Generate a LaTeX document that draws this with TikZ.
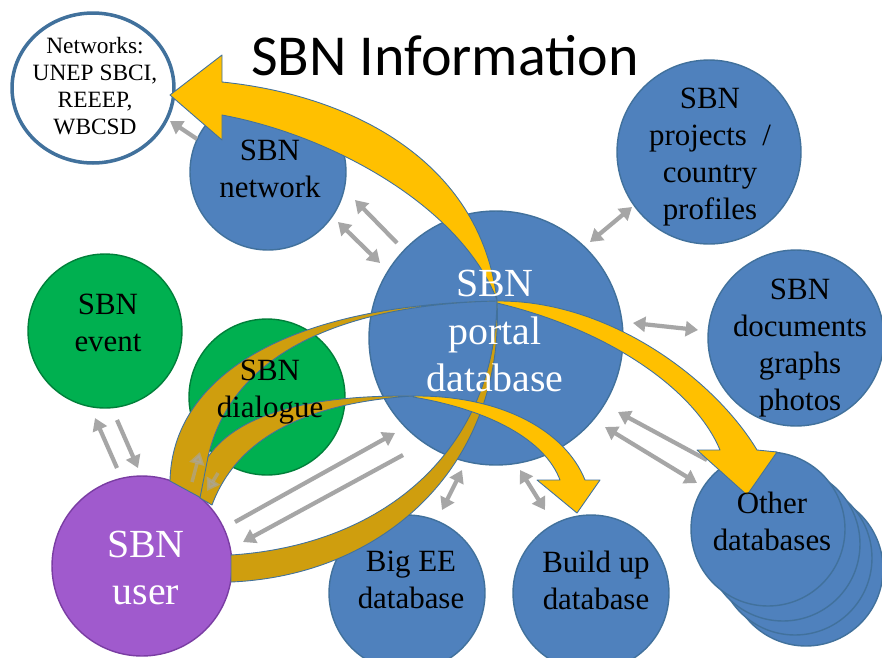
\documentclass[tikz,border=0pt]{standalone}
\usepackage{fontspec}
\setmainfont{Liberation Serif}
\newfontfamily\titlefont{Carlito}
\usetikzlibrary{arrows.meta, shapes.geometric}
\definecolor{sbnblue}{HTML}{4F81BD}
\definecolor{sbnline}{HTML}{41719C}
\definecolor{sbngreen}{HTML}{00B050}
\definecolor{sbngreenline}{HTML}{00803A}
\definecolor{sbnpurple}{HTML}{A05ACD}
\definecolor{sbnpurpleline}{HTML}{7A3DA3}
\definecolor{flowgold}{HTML}{FFC000}
\definecolor{flowdark}{HTML}{CF9E0E}
\definecolor{linkgray}{HTML}{A6A6A6}
\begin{document}
\begin{tikzpicture}[x = 0.02cm, y = -0.02cm,
    db node/.style = {circle, draw = sbnline, line width = 0.8pt, fill = sbnblue, inner sep = 0pt},
    green node/.style = {circle, draw = sbngreenline, line width = 0.8pt, fill = sbngreen, inner sep = 0pt},
    user node/.style = {circle, draw = sbnpurpleline, line width = 0.8pt, fill = sbnpurple, inner sep = 0pt},
    circle text/.style = {align = center, inner sep = 0pt, font = \fontsize{17.6}{21}\selectfont},
    big text/.style = {align = center, inner sep = 0pt, text = white, font = \fontsize{22.7}{27.2}\selectfont},
    link/.style = {draw = linkgray, line width = 2.4pt, -{Triangle[width = 8.5pt, length = 7pt]}},
    twoway/.style = {link, {Triangle[width = 8.5pt, length = 7pt]}-{Triangle[width = 8.5pt, length = 7pt]}},
    flow front/.style = {fill = flowgold, draw = sbnline, line width = 0.5pt, line join = round},
    flow back/.style = {fill = flowdark, draw = sbnline, line width = 0.5pt, line join = round}]
    \fill[white] (0, 0) rectangle (882, 657);
    \useasboundingbox (0, 0) rectangle (882, 657);

    \node at (93, 88) [ellipse, draw = sbnline, line width = 2pt, fill = white, inner sep = 0pt, minimum width = 3.24cm, minimum height = 3cm] (networks) {};
    \node at (268, 172) [db node, minimum size = 3.12cm] (network) {};
    \node at (709, 152) [db node, minimum size = 3.68cm] (projects) {};
    \node at (796, 338) [db node, minimum size = 3.52cm] (documents) {};
    \node at (806, 569) [db node, minimum size = 3.08cm] (other3) {};
    \node at (795, 558) [db node, minimum size = 3.08cm] (other2) {};
    \node at (783, 544) [db node, minimum size = 3.08cm] (other1) {};
    \node at (768, 529) [db node, minimum size = 3.08cm] (other) {};
    \node at (407, 593) [db node, minimum size = 3.12cm] (bigee) {};
    \node at (591, 593) [db node, minimum size = 3.12cm] (buildup) {};
    \node at (496, 338) [db node, minimum size = 5.08cm] (portal) {};
    \node at (105, 331) [green node, minimum size = 3.08cm] (event) {};
    \node at (267, 397) [green node, minimum size = 3.12cm] (dialogue) {};
    \node at (142, 566) [user node, minimum size = 3.6cm] (user) {};

    \path[flow back] (231, 582) .. controls (390, 575) and (505, 460) .. (497, 300)
        .. controls (495, 450) and (385, 545) .. (231, 555) -- cycle;
    \path[flow back] (170, 481) .. controls (172, 380) and (280, 305) .. (497, 301)
        .. controls (330, 305) and (230, 360) .. (208, 457) -- (205, 500) -- cycle;
    \path[flow back] (200, 498) -- (208, 457) .. controls (240, 410) and (320, 395) .. (413, 396)
        .. controls (320, 402) and (240, 430) .. (212, 505) -- cycle;

    \coordinate (n1a) at (197, 139);
    \coordinate (n1b) at (170, 121);
    \coordinate (n2a) at (397, 243);
    \coordinate (n2b) at (355, 200);
    \coordinate (n3a) at (380, 263);
    \coordinate (n3b) at (338, 222);
    \coordinate (p1a) at (590, 242);
    \coordinate (p1b) at (632, 207);
    \coordinate (d1a) at (633, 323);
    \coordinate (d1b) at (698, 330);
    \coordinate (o1a) at (707, 460);
    \coordinate (o1b) at (618, 412);
    \coordinate (o2a) at (605, 427);
    \coordinate (o2b) at (697, 483);
    \coordinate (b1a) at (462, 470);
    \coordinate (b1b) at (442, 510);
    \coordinate (u1a) at (520, 470);
    \coordinate (u1b) at (545, 510);
    \coordinate (l1a) at (235, 522);
    \coordinate (l1b) at (395, 433);
    \coordinate (l2a) at (403, 455);
    \coordinate (l2b) at (243, 542);
    \coordinate (e1a) at (117, 468);
    \coordinate (e1b) at (95, 418);
    \coordinate (e2a) at (117, 420);
    \coordinate (e2b) at (138, 468);
    \coordinate (g1a) at (192, 482);
    \coordinate (g1b) at (200, 452);
    \coordinate (g2a) at (218, 473);
    \coordinate (g2b) at (207, 491);

    \draw [link] (n1a) -- (n1b);
    \draw [link] (n2a) -- (n2b);
    \draw [twoway] (n3a) -- (n3b);
    \draw [twoway] (p1a) -- (p1b);
    \draw [twoway] (d1a) -- (d1b);
    \draw [link] (o1a) -- (o1b);
    \draw [twoway] (o2a) -- (o2b);
    \draw [twoway] (b1a) -- (b1b);
    \draw [twoway] (u1a) -- (u1b);
    \draw [link] (l1a) -- (l1b);
    \draw [link] (l2a) -- (l2b);
    \draw [link] (e1a) -- (e1b);
    \draw [link] (e2a) -- (e2b);
    \draw [link, opacity = 0.6, line width = 2pt] (g1a) -- (g1b);
    \draw [link, opacity = 0.6, line width = 2pt] (g2a) -- (g2b);

    \path[flow front] (413, 396) .. controls (500, 395) and (565, 430) .. (585, 480) -- (600, 480) -- (577, 513)
        -- (537, 480) -- (560, 480) .. controls (545, 440) and (490, 410) .. (413, 397) -- cycle;
    \path[flow front] (497, 301) .. controls (610, 300) and (715, 380) .. (757, 450) -- (777, 452) -- (747, 495)
        -- (697, 450) -- (720, 450) .. controls (695, 390) and (610, 330) .. (497, 303) -- cycle;
    \path[flow front] (497, 300) .. controls (480, 160) and (350, 95) .. (222, 82) -- (222, 55) -- (170, 95)
        -- (222, 140) -- (222, 115) .. controls (330, 135) and (460, 205) .. (497, 300) -- cycle;

    \node at (445, 75) [anchor = base, inner sep = 0pt, font = \titlefont\fontsize{33}{39}\selectfont] (title) {SBN Information};
    \node at (95, 86) [circle text, font = \fontsize{13.3}{15.3}\selectfont] (networkstext) {Networks:\\UNEP SBCI,\\REEEP,\\WBCSD};
    \node at (270, 169) [circle text] (networktext) {SBN\\network};
    \node at (710, 157) [circle text] (projectstext) {SBN\\projects~~/\\country\\profiles};
    \node at (800, 348) [circle text] (documentstext) {SBN\\documents\\graphs\\photos};
    \node at (772, 521) [circle text] (othertext) {Other\\databases};
    \node at (411, 580) [circle text] (bigeetext) {Big EE\\database};
    \node at (596, 580) [circle text] (builduptext) {Build up\\database};
    \node at (108, 323) [circle text] (eventtext) {SBN\\event};
    \node at (270, 392) [circle text] (dialoguetext) {SBN\\dialogue};
    \node at (495, 331) [big text] (portaltext) {SBN\\portal\\database};
    \node at (146, 568) [big text] (usertext) {SBN\\user};
\end{tikzpicture}
\end{document}
